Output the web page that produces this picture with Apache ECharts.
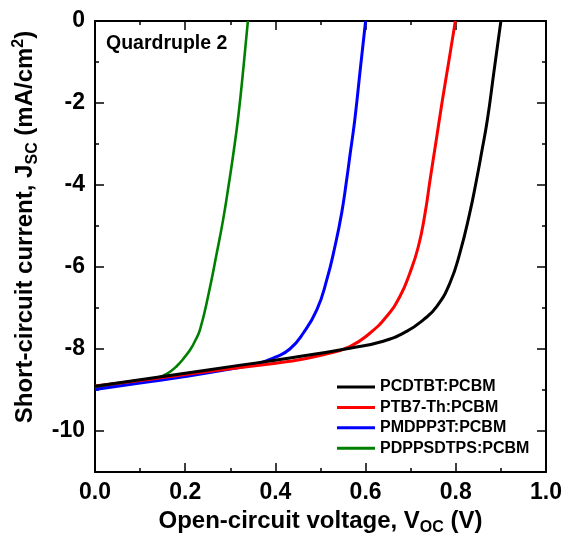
<!DOCTYPE html>
<html><head><meta charset="utf-8">
<script src="https://cdn.jsdelivr.net/npm/echarts@6/dist/echarts.min.js"></script>
<style>html,body{margin:0;padding:0;background:#fff}#c{width:576px;height:538px}</style>
</head><body><div id="c"></div>
<script>
// ---- data ----
const seriesNames = ['PCDTBT:PCBM', 'PTB7-Th:PCBM', 'PMDPP3T:PCBM', 'PDPPSDTPS:PCBM'];
const seriesColors = ['#000000', '#ff0000', '#0000ff', '#008000'];

const pcdtbtV = [0, 0.1, 0.2, 0.3, 0.432, 0.565, 0.639, 0.691, 0.728, 0.758, 0.787, 0.809, 0.831, 0.846, 0.857, 0.87, 0.885, 0.9];
const pcdtbtJ = [-8.91, -8.75, -8.59, -8.43, -8.22, -7.98, -7.81, -7.57, -7.29, -6.96, -6.39, -5.66, -4.68, -3.87, -3.22, -2.41, -1.2, 0];

const ptb7V = [0, 0.1, 0.2, 0.3, 0.432, 0.506, 0.565, 0.61, 0.647, 0.676, 0.698, 0.717, 0.732, 0.743, 0.756, 0.77, 0.785, 0.799];
const ptb7J = [-8.90, -8.77, -8.62, -8.48, -8.30, -8.14, -7.94, -7.61, -7.20, -6.72, -6.15, -5.50, -4.68, -3.87, -2.95, -1.95, -0.95, 0];

const pmdppV = [0, 0.1, 0.2, 0.3, 0.36, 0.4, 0.432, 0.462, 0.492, 0.514, 0.532, 0.547, 0.558, 0.566, 0.576, 0.588, 0.6];
const pmdppJ = [-8.99, -8.83, -8.67, -8.49, -8.36, -8.20, -8.00, -7.61, -7.04, -6.31, -5.50, -4.68, -3.87, -3.22, -2.41, -1.2, 0];

const pdppV = [0, 0.063, 0.1, 0.137, 0.16, 0.181, 0.2, 0.211, 0.222, 0.233, 0.251, 0.27, 0.284, 0.296, 0.307, 0.318, 0.329, 0.339];
const pdppJ = [-8.96, -8.83, -8.77, -8.71, -8.60, -8.42, -8.18, -8.02, -7.80, -7.52, -6.70, -5.66, -4.85, -4.03, -3.22, -2.30, -1.15, 0];

const xTickLabels = [0, 0.2, 0.4, 0.6, 0.8, 1.0];
const yTickLabels = [0, -2, -4, -6, -8, -10];
const panelLabel = 'Quardruple 2';

// ---- chart ----
const FONT = "'Liberation Sans', Arial, Helvetica, sans-serif";
const zip = (a, b) => a.map((v, i) => [v, b[i]]);
const allV = [pcdtbtV, ptb7V, pmdppV, pdppV];
const allJ = [pcdtbtJ, ptb7J, pmdppJ, pdppJ];

const axisLineStyle = { show: true, onZero: false, lineStyle: { color: '#000', width: 2 } };
const tickStyle = { color: '#000', width: 1.5 };

function xAxisDef(pos, showLabel) {
  return {
    type: 'value', position: pos, min: 0, max: 1, interval: 0.2,
    axisLine: axisLineStyle,
    axisTick: { show: true, inside: true, length: 9, lineStyle: tickStyle },
    minorTick: { show: true, splitNumber: 2, length: 4, lineStyle: tickStyle },
    splitLine: { show: false },
    axisLabel: {
      show: showLabel, margin: 9, color: '#000', fontFamily: FONT, fontWeight: 'bold', fontSize: 23,
      customValues: xTickLabels,
      formatter: v => v.toFixed(1)
    }
  };
}
function yAxisShort(pos, showLabel) {
  return {
    type: 'value', position: pos, min: -11, max: 0, interval: 1,
    axisLine: axisLineStyle,
    axisTick: { show: true, inside: true, length: 4, lineStyle: tickStyle },
    splitLine: { show: false },
    axisLabel: {
      show: showLabel, margin: 10, color: '#000', fontFamily: FONT, fontWeight: 'bold', fontSize: 23,
      customValues: yTickLabels,
      formatter: v => String(v)
    }
  };
}
function yAxisLong(pos) {
  return {
    type: 'value', position: pos, min: -11, max: 0, interval: 1,
    axisLine: { show: false, onZero: false },
    axisTick: { show: true, inside: true, length: 9, lineStyle: tickStyle, customValues: yTickLabels },
    splitLine: { show: false },
    axisLabel: { show: false }
  };
}

const xAx0 = xAxisDef('bottom', true);
xAx0.name = '{m|Open-circuit voltage, V}{s|OC}{m| (V)}';
xAx0.nameLocation = 'middle';
xAx0.nameGap = 33;
xAx0.nameTextStyle = {
  color: '#000', fontFamily: FONT, fontWeight: 'bold', fontSize: 24,
  rich: {
    m: { fontFamily: FONT, fontWeight: 'bold', fontSize: 24, lineHeight: 30, verticalAlign: 'middle', color: '#000' },
    s: { fontFamily: FONT, fontWeight: 'bold', fontSize: 16, lineHeight: 15, verticalAlign: 'bottom', color: '#000' }
  }
};

const yAx0 = yAxisShort('left', true);
yAx0.name = '{m|Short-circuit current, J}{s|SC}{m| (mA/cm}{p|2}{m|)}';
yAx0.nameLocation = 'middle';
yAx0.nameRotate = 90;
yAx0.nameGap = 50;
yAx0.nameTextStyle = {
  color: '#000', fontFamily: FONT, fontWeight: 'bold', fontSize: 24,
  padding: [0, 0, 0, 39],
  rich: {
    m: { fontFamily: FONT, fontWeight: 'bold', fontSize: 24, lineHeight: 30, verticalAlign: 'middle', color: '#000' },
    s: { fontFamily: FONT, fontWeight: 'bold', fontSize: 16, lineHeight: 15, verticalAlign: 'bottom', color: '#000' },
    p: { fontFamily: FONT, fontWeight: 'bold', fontSize: 16, lineHeight: 15, verticalAlign: 'top', color: '#000' }
  }
};

const option = {
  backgroundColor: '#fff',
  animation: false,
  grid: { left: 95, right: 30, top: 21, bottom: 66, containLabel: false, outerBoundsMode: 'none' },
  xAxis: [xAx0, xAxisDef('top', false)],
  yAxis: [yAx0, yAxisLong('left'), yAxisShort('right', false), yAxisLong('right')],
  legend: {
    orient: 'vertical', left: 332, top: 374,
    icon: 'rect', itemWidth: 38, itemHeight: 3, itemGap: 4.4,
    textStyle: { color: '#000', fontFamily: FONT, fontWeight: 'bold', fontSize: 16, lineHeight: 16, padding: [0, 0, 0, 0] },
    data: seriesNames
  },
  graphic: [{
    type: 'text', left: 106, top: 34,
    style: { text: panelLabel, fill: '#000', font: "bold 19.5px 'Liberation Sans', Arial, sans-serif" }
  }],
  series: seriesNames.map((n, i) => ({
    name: n, type: 'line', xAxisIndex: 0, yAxisIndex: 0,
    data: zip(allV[i], allJ[i]),
    showSymbol: false, symbol: 'none',
    smooth: 0.5,
    color: seriesColors[i],
    lineStyle: { color: seriesColors[i], width: i === 3 ? 2.6 : 3 },
    z: 10 - i
  }))
};

const chart = echarts.init(document.getElementById('c'), null, { renderer: 'canvas' });
chart.setOption(option);
</script>
</body></html>
